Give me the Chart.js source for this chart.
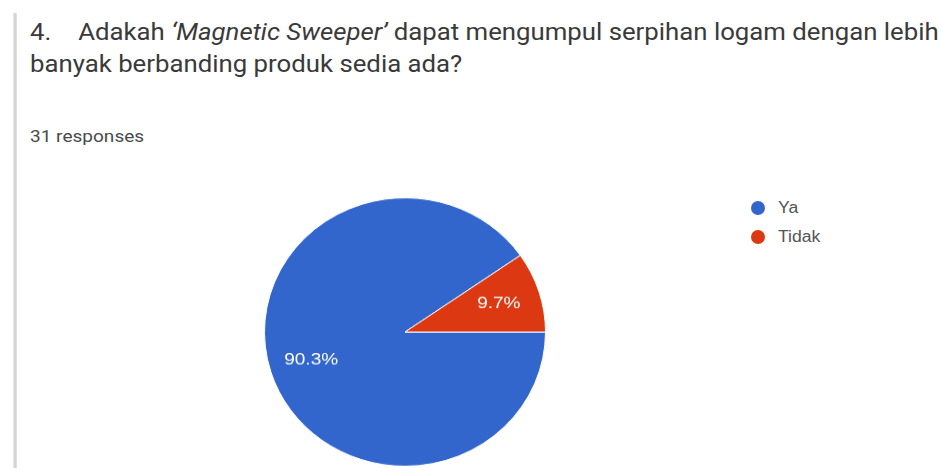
<!DOCTYPE html>
<html>
<head>
<meta charset="utf-8">
<script src="https://cdn.jsdelivr.net/npm/chart.js@4.4.1/dist/chart.umd.min.js"></script>
<style>
  html, body { margin: 0; padding: 0; background: #fff; }
  body { width: 943px; height: 468px; overflow: hidden; position: relative; font-family: Roboto, Arial, sans-serif; }
  .card-edge {
    position: absolute; left: 13px; top: 13px; width: 4px; bottom: 0;
    background: linear-gradient(to right, #ececec, #cfcfcf 50%, #e4e4e4);
  }
  .question {
    position: absolute; left: 30px; top: 17px; margin: 0;
    font-size: 23px; font-weight: 400; line-height: 32px; color: #3a3a3a;
    white-space: nowrap; transform: scaleX(1.12); transform-origin: 0 0;
  }
  .question .num { margin-right: 24px; }
  .responses {
    position: absolute; left: 30px; top: 126px;
    font-size: 17px; color: #4a4a4a; transform: scaleX(1.12); transform-origin: 0 0;
  }
  #pieWrap {
    position: absolute; left: 264px; top: 191px; width: 282px; height: 282px;
    transform: scaleY(0.955); transform-origin: 50% 50%;
  }
  #legend { position: absolute; left: 751px; top: 193px; list-style: none; margin: 0; padding: 0; }
  #legend li { height: 29px; display: flex; align-items: center; font-family: Arial, sans-serif; font-size: 16px; color: #555; }
  #legend .dot { width: 14px; height: 14px; border-radius: 50%; margin-right: 13px; }
  #legend .txt { display: inline-block; transform: scaleX(1.1); transform-origin: 0 50%; }
</style>
</head>
<body>
<div class="card-edge"></div>
<h3 class="question"><span class="num">4.</span>Adakah <i>‘Magnetic Sweeper’</i> dapat mengumpul serpihan logam dengan lebih<br>banyak berbanding produk sedia ada?</h3>
<div class="responses">31 responses</div>
<div id="pieWrap"><canvas id="pieChart"></canvas></div>
<ul id="legend"></ul>

<script>
const answers = ["Ya", "Tidak"];
const counts  = [28, 3];
const colors  = ["#3366cc", "#dc3912"];

const total = counts.reduce((a, b) => a + b, 0);

// legend on the right, one row per answer
document.getElementById("legend").innerHTML = answers.map((a, i) =>
  `<li><span class="dot" style="background:${colors[i]}"></span><span class="txt">${a}</span></li>`).join("");

// percentage text inside each slice, 70% of the way out
const sliceLabels = {
  id: "sliceLabels",
  afterDatasetsDraw(chart) {
    const { ctx } = chart;
    const meta = chart.getDatasetMeta(0);
    meta.data.forEach((arc, i) => {
      const { x, y, startAngle, endAngle, outerRadius } = arc.getProps(["x", "y", "startAngle", "endAngle", "outerRadius"], true);
      const mid = (startAngle + endAngle) / 2;
      const r = outerRadius * 0.7;
      const pct = (counts[i] / total * 100).toFixed(1) + "%";
      ctx.save();
      ctx.translate(x + Math.cos(mid) * r, y + Math.sin(mid) * r);
      ctx.scale(1.12, 1);
      ctx.fillStyle = "#fff";
      ctx.font = "17px Arial, sans-serif";
      ctx.textAlign = "center";
      ctx.textBaseline = "middle";
      ctx.fillText(pct, 0, 0);
      ctx.restore();
    });
  }
};

new Chart(document.getElementById("pieChart"), {
  type: "pie",
  data: {
    labels: answers,
    datasets: [{
      data: counts,
      backgroundColor: colors,
      borderColor: "#fff",
      borderWidth: 1
    }]
  },
  options: {
    responsive: true,
    maintainAspectRatio: false,
    animation: false,
    rotation: 90,
    layout: { padding: 0 },
    plugins: { legend: { display: false }, tooltip: { enabled: false } }
  },
  plugins: [sliceLabels]
});
</script>
</body>
</html>
